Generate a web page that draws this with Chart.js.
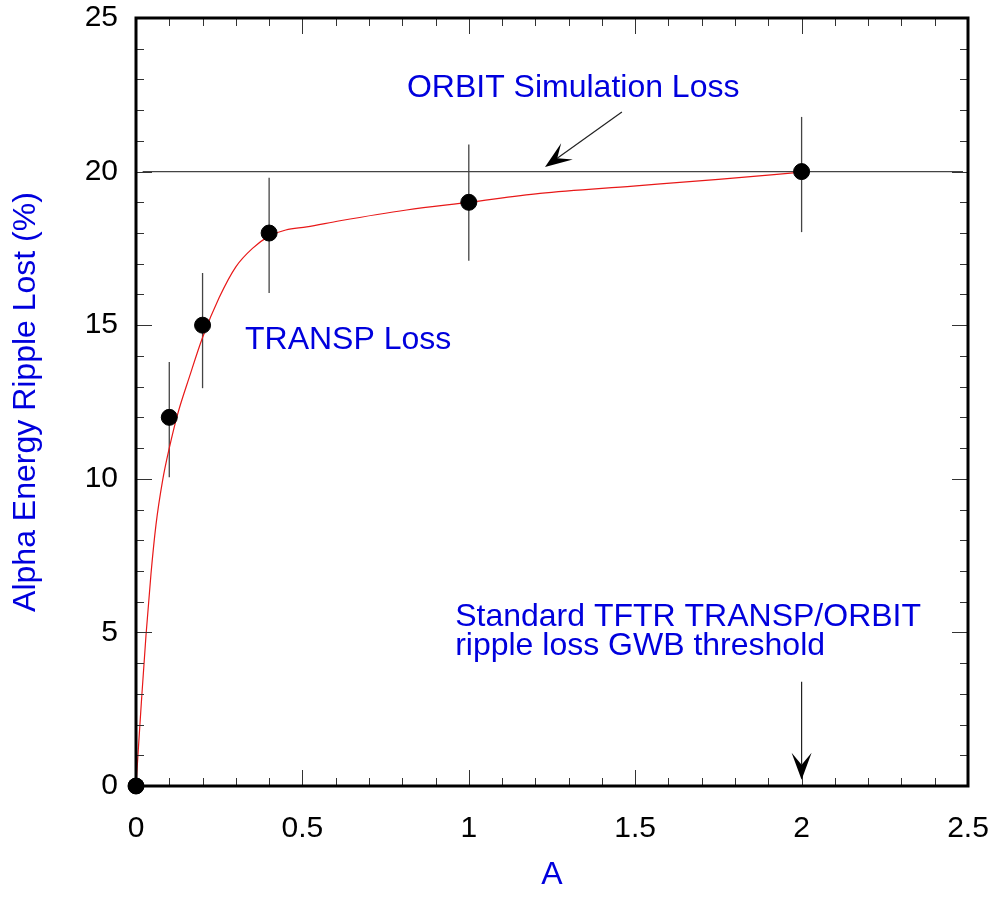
<!DOCTYPE html>
<html>
<head>
<meta charset="utf-8">
<title>Alpha Energy Ripple Lost vs A</title>
<script src="https://cdn.jsdelivr.net/npm/chart.js@4"></script>
<style>
  html, body { margin: 0; padding: 0; background: #fff; }
  #wrap { width: 1004px; height: 898px; }
</style>
</head>
<body>
<div id="wrap"><canvas id="chart" width="1004" height="898"></canvas></div>
<script>
// TRANSP points with error bars
const pointA = [0, 0.1, 0.2, 0.4, 1, 2];
const pointLoss = [0, 12, 15, 18, 19, 20];
const errLow = [0, 10.05, 12.95, 16.05, 17.1, 18.03];
const errHigh = [0, 13.8, 16.7, 19.8, 20.88, 21.78];

// smooth TRANSP fit curve
const curveA = [0, 0.007, 0.016, 0.030, 0.045, 0.060, 0.080, 0.100, 0.125, 0.160, 0.200, 0.250,
  0.300, 0.350, 0.400, 0.450, 0.513, 0.613, 0.813, 1.0, 1.214, 1.494, 1.75, 2.0];
const curveLoss = [0, 1.2, 2.7, 4.9, 6.9, 8.5, 9.95, 11.0, 12.1, 13.3, 14.6, 15.9,
  16.9, 17.5, 17.9, 18.1, 18.2, 18.4, 18.75, 19.0, 19.29, 19.53, 19.75, 19.98];

// ORBIT simulation level
const orbitA = [0.02, 2.485];
const orbitLoss = 20;

const xTicks = [0, 0.5, 1, 1.5, 2, 2.5];
const yTicks = [0, 5, 10, 15, 20, 25];

const FONT = '"Liberation Sans", Arial, Helvetica, sans-serif';
const BLUE = '#0000dd';

function arrow(ctx, x1, y1, x2, y2) {
  const dx = x2 - x1, dy = y2 - y1;
  const len = Math.hypot(dx, dy);
  const ux = dx / len, uy = dy / len;
  const px = -uy, py = ux;
  const L = 27, W = 10, N = 15;
  ctx.beginPath();
  ctx.moveTo(x1, y1);
  ctx.lineTo(x2 - ux * N, y2 - uy * N);
  ctx.strokeStyle = '#222';
  ctx.lineWidth = 1.2;
  ctx.stroke();
  ctx.beginPath();
  ctx.moveTo(x2, y2);
  ctx.lineTo(x2 - ux * L + px * W, y2 - uy * L + py * W);
  ctx.lineTo(x2 - ux * N, y2 - uy * N);
  ctx.lineTo(x2 - ux * L - px * W, y2 - uy * L - py * W);
  ctx.closePath();
  ctx.fillStyle = '#000';
  ctx.fill();
}

const extras = {
  id: 'extras',
  beforeDatasetsDraw(chart) {
    const {ctx, scales: {x, y}} = chart;
    ctx.save();
    ctx.strokeStyle = '#444';
    ctx.lineWidth = 1.3;
    pointA.forEach((a, i) => {
      if (errHigh[i] === errLow[i]) return;
      const px = x.getPixelForValue(a);
      ctx.beginPath();
      ctx.moveTo(px, y.getPixelForValue(errLow[i]));
      ctx.lineTo(px, y.getPixelForValue(errHigh[i]));
      ctx.stroke();
    });
    ctx.restore();
  },
  afterDraw(chart) {
    const {ctx, chartArea: ca, scales: {x, y}} = chart;
    ctx.save();

    // inward ticks on all four sides, 5 minor steps per major
    ctx.strokeStyle = '#333';
    ctx.lineWidth = 1;
    const sub = 5;
    for (let i = 0; i < xTicks.length; i++) {
      for (let k = 0; k < sub; k++) {
        if (i === xTicks.length - 1 && k > 0) break;
        const v = i < xTicks.length - 1 ? xTicks[i] + (xTicks[i + 1] - xTicks[i]) * k / sub : xTicks[i];
        const p = Math.round(x.getPixelForValue(v)) + 0.5;
        const len = k === 0 ? 16 : 8;
        ctx.beginPath();
        ctx.moveTo(p, ca.bottom); ctx.lineTo(p, ca.bottom - len);
        ctx.moveTo(p, ca.top); ctx.lineTo(p, ca.top + len);
        ctx.stroke();
      }
    }
    for (let i = 0; i < yTicks.length; i++) {
      for (let k = 0; k < sub; k++) {
        if (i === yTicks.length - 1 && k > 0) break;
        const v = i < yTicks.length - 1 ? yTicks[i] + (yTicks[i + 1] - yTicks[i]) * k / sub : yTicks[i];
        const p = Math.round(y.getPixelForValue(v)) + 0.5;
        const len = k === 0 ? 16 : 8;
        ctx.beginPath();
        ctx.moveTo(ca.left, p); ctx.lineTo(ca.left + len, p);
        ctx.moveTo(ca.right, p); ctx.lineTo(ca.right - len, p);
        ctx.stroke();
      }
    }

    // frame
    ctx.strokeStyle = '#000';
    ctx.lineWidth = 3;
    ctx.strokeRect(ca.left, ca.top, ca.right - ca.left, ca.bottom - ca.top);

    // zero point sits on the frame corner
    ctx.beginPath();
    ctx.arc(x.getPixelForValue(pointA[0]), y.getPixelForValue(pointLoss[0]), 8, 0, Math.PI * 2);
    ctx.fillStyle = '#000';
    ctx.fill();

    // arrows
    arrow(ctx, x.getPixelForValue(1.46), y.getPixelForValue(21.94),
      x.getPixelForValue(1.229), y.getPixelForValue(20.15));
    arrow(ctx, x.getPixelForValue(2), y.getPixelForValue(3.39),
      x.getPixelForValue(2), y.getPixelForValue(0.2));

    // labels
    ctx.fillStyle = BLUE;
    ctx.font = '32px ' + FONT;
    ctx.textAlign = 'left';
    ctx.textBaseline = 'alphabetic';
    ctx.fillText('ORBIT Simulation Loss', x.getPixelForValue(0.814), y.getPixelForValue(22.43));
    ctx.fillText('TRANSP Loss', x.getPixelForValue(0.3275), y.getPixelForValue(14.23));
    ctx.fillText('Standard TFTR TRANSP/ORBIT', x.getPixelForValue(0.959), y.getPixelForValue(5.21));
    ctx.fillText('ripple loss GWB threshold', x.getPixelForValue(0.959), y.getPixelForValue(4.26));
    ctx.restore();
  }
};

new Chart(document.getElementById('chart').getContext('2d'), {
  type: 'scatter',
  data: {
    datasets: [
      {
        type: 'line',
        label: 'TRANSP fit',
        data: curveA.map((a, i) => ({x: a, y: curveLoss[i]})),
        borderColor: '#e81818',
        borderWidth: 1.2,
        pointRadius: 0,
        cubicInterpolationMode: 'monotone',
        fill: false,
        order: 2
      },
      {
        type: 'line',
        label: 'ORBIT',
        data: orbitA.map(a => ({x: a, y: orbitLoss})),
        borderColor: '#444',
        borderWidth: 1.2,
        pointRadius: 0,
        fill: false,
        order: 3
      },
      {
        label: 'TRANSP Loss',
        data: pointA.map((a, i) => ({x: a, y: pointLoss[i]})),
        backgroundColor: '#000',
        borderColor: '#000',
        pointRadius: 8,
        order: 1
      }
    ]
  },
  options: {
    responsive: false,
    animation: false,
    clip: false,
    layout: { padding: { left: 0, top: 18, right: 36, bottom: 0 } },
    plugins: { legend: { display: false }, tooltip: { enabled: false } },
    scales: {
      x: {
        type: 'linear',
        min: 0, max: 2.5,
        afterBuildTicks: s => { s.ticks = xTicks.map(v => ({value: v})); },
        afterFit: s => { s.height = 112; s.paddingLeft = 0; s.paddingRight = 0; },
        grid: { display: false, drawTicks: false },
        border: { display: false },
        ticks: { color: '#000', padding: 25, font: { family: FONT, size: 30 }, maxRotation: 0,
          callback: v => String(v) },
        title: { display: true, text: 'A', color: BLUE, font: { family: FONT, size: 32 }, padding: { top: 0, bottom: 4 } }
      },
      y: {
        type: 'linear',
        min: 0, max: 25,
        afterBuildTicks: s => { s.ticks = yTicks.map(v => ({value: v})); },
        afterFit: s => { s.width = 136; s.paddingTop = 0; s.paddingBottom = 0; },
        grid: { display: false, drawTicks: false },
        border: { display: false },
        ticks: { color: '#000', padding: 18, font: { family: FONT, size: 30 }, callback: v => String(v) },
        title: { display: true, text: 'Alpha Energy Ripple Lost (%)', color: BLUE, font: { family: FONT, size: 32 }, padding: { top: 7, bottom: 0 } }
      }
    }
  },
  plugins: [extras]
});
</script>
</body>
</html>
